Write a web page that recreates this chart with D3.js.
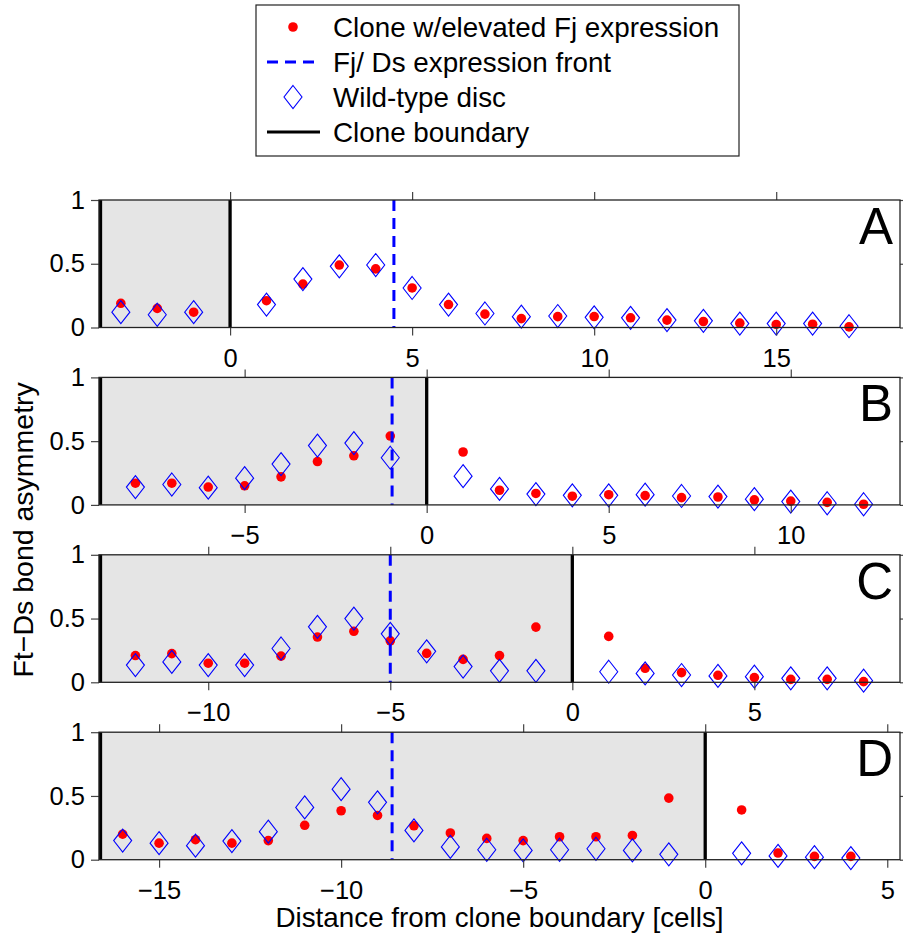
<!DOCTYPE html>
<html>
<head>
<meta charset="utf-8">
<script src="https://cdn.jsdelivr.net/npm/d3@7"></script>
<style>
  body { margin: 0; background: #fff; }
  text { font-family: "Liberation Sans", Arial, sans-serif; }
</style>
</head>
<body>
<div id="chart"></div>
<script>
// panel setup
var panelLabels = ["A", "B", "C", "D"];
var xDomains = [[-3.6, 18.4], [-9, 13], [-13, 9], [-16.65, 5.35]];
var frontPos = [4.5, -0.95, -5, -8.6];
var xTicks = [[0, 5, 10, 15], [-5, 0, 5, 10], [-10, -5, 0, 5], [-15, -10, -5, 0, 5]];
var yTicks = [0, 0.5, 1];

// A
var cellsA = [-3, -2, -1, 1, 2, 3, 4, 5, 6, 7, 8, 9, 10, 11, 12, 13, 14, 15, 16, 17];
var cloneA = [0.19, 0.15, 0.12, 0.21, 0.34, 0.49, 0.46, 0.31, 0.18, 0.105, 0.07, 0.085, 0.086, 0.076, 0.058, 0.047, 0.034, 0.024, 0.026, 0.005];
var wildA = [0.12, 0.10, 0.12, 0.18, 0.38, 0.48, 0.49, 0.31, 0.18, 0.11, 0.085, 0.09, 0.08, 0.076, 0.058, 0.052, 0.031, 0.031, 0.031, 0.01];

// B
var cellsB = [-8, -7, -6, -5, -4, -3, -2, -1, 1, 2, 3, 4, 5, 6, 7, 8, 9, 10, 11, 12];
var cloneB = [0.17, 0.17, 0.14, 0.15, 0.22, 0.34, 0.385, 0.54, 0.415, 0.115, 0.09, 0.068, 0.08, 0.073, 0.057, 0.062, 0.04, 0.03, 0.02, 0.005];
var wildB = [0.14, 0.16, 0.135, 0.21, 0.32, 0.465, 0.485, 0.37, 0.225, 0.125, 0.085, 0.075, 0.075, 0.08, 0.07, 0.065, 0.045, 0.026, 0.013, 0.005];

// C
var cellsC = [-12, -11, -10, -9, -8, -7, -6, -5, -4, -3, -2, -1, 1, 2, 3, 4, 5, 6, 7, 8];
var cloneC = [0.21, 0.225, 0.15, 0.15, 0.205, 0.355, 0.40, 0.325, 0.227, 0.18, 0.21, 0.433, 0.36, 0.11, 0.076, 0.055, 0.037, 0.023, 0.023, 0.005];
var wildC = [0.135, 0.16, 0.135, 0.135, 0.265, 0.435, 0.50, 0.38, 0.243, 0.123, 0.09, 0.09, 0.083, 0.07, 0.057, 0.05, 0.044, 0.031, 0.031, 0.013];

// D
var cellsD = [-16, -15, -14, -13, -12, -11, -10, -9, -8, -7, -6, -5, -4, -3, -2, -1, 1, 2, 3, 4];
var cloneD = [0.20, 0.13, 0.157, 0.13, 0.15, 0.27, 0.384, 0.347, 0.266, 0.21, 0.167, 0.15, 0.18, 0.18, 0.19, 0.483, 0.39, 0.052, 0.026, 0.026];
var wildD = [0.15, 0.13, 0.11, 0.146, 0.22, 0.41, 0.553, 0.45, 0.23, 0.10, 0.078, 0.073, 0.078, 0.086, 0.073, 0.042, 0.05, 0.03, 0.02, 0.013];

var cells = [cellsA, cellsB, cellsC, cellsD];
var clone = [cloneA, cloneB, cloneC, cloneD];
var wild = [wildA, wildB, wildC, wildD];

var legendLabels = ["Clone w/elevated Fj expression", "Fj/ Ds expression front", "Wild-type disc", "Clone boundary"];

var width = 903,
  height = 937;
var left = 99,
  right = 900,
  firstTop = 200,
  panelStep = 177.4,
  panelH = 127.5;

var svg = d3
  .select("#chart")
  .append("svg")
  .attr("width", width)
  .attr("height", height);

function diamond(cx, cy) {
  return "M" + cx + "," + (cy - 11.5) + "L" + (cx + 9) + "," + cy + "L" + cx + "," + (cy + 11.5) + "L" + (cx - 9) + "," + cy + "Z";
}

panelLabels.forEach(function(lab, i) {
  var top = firstTop + i * panelStep;
  var x = d3.scaleLinear().domain(xDomains[i]).range([left, right]);
  var y = d3.scaleLinear().domain([0, 1]).range([top + panelH, top]);
  var g = svg.append("g");

  // clone shading
  g.append("rect")
    .attr("x", x(xDomains[i][0]))
    .attr("y", y(1))
    .attr("width", x(0) - x(xDomains[i][0]))
    .attr("height", y(0) - y(1))
    .style("fill", "#e5e5e5");

  var pts = cells[i].map(function(c, k) {
    return { x: c, c: clone[i][k], w: wild[i][k] };
  });

  g.append("g")
    .selectAll("circle")
    .data(pts)
    .enter()
    .append("circle")
    .attr("cx", function(d) { return x(d.x); })
    .attr("cy", function(d) { return y(d.c); })
    .attr("r", 4.8)
    .style("fill", "#ff0000");

  g.append("line")
    .attr("x1", x(frontPos[i]))
    .attr("x2", x(frontPos[i]))
    .attr("y1", y(1))
    .attr("y2", y(0))
    .style("stroke", "#0000ff")
    .style("stroke-width", 3)
    .style("stroke-dasharray", "11,7");

  g.append("g")
    .selectAll("path")
    .data(pts)
    .enter()
    .append("path")
    .attr("d", function(d) { return diamond(x(d.x), y(d.w)); })
    .style("fill", "none")
    .style("stroke", "#0000ff")
    .style("stroke-width", 1.1);

  // clone boundaries
  [xDomains[i][0], 0].forEach(function(b) {
    g.append("line")
      .attr("x1", x(b) + (b === xDomains[i][0] ? 1.5 : 0))
      .attr("x2", x(b) + (b === xDomains[i][0] ? 1.5 : 0))
      .attr("y1", y(1))
      .attr("y2", y(0))
      .style("stroke", "#000")
      .style("stroke-width", 3.3);
  });

  // axes
  var xb = g.append("g")
    .attr("transform", "translate(0," + y(0) + ")")
    .call(d3.axisBottom(x).tickValues(xTicks[i]).tickSizeInner(8).tickSizeOuter(0).tickPadding(13).tickFormat(d3.format("")));
  var xt = g.append("g")
    .attr("transform", "translate(0," + y(1) + ")")
    .call(d3.axisTop(x).tickValues(xTicks[i]).tickSizeInner(8).tickSizeOuter(0).tickFormat(""));
  var yl = g.append("g")
    .attr("transform", "translate(" + left + ",0)")
    .call(d3.axisLeft(y).tickValues(yTicks).tickSizeInner(8).tickSizeOuter(0).tickPadding(6).tickFormat(d3.format("")));
  var yr = g.append("g")
    .attr("transform", "translate(" + right + ",0)")
    .call(d3.axisRight(y).tickValues(yTicks).tickSizeInner(8).tickSizeOuter(0).tickFormat(""));

  [xb, xt, yl, yr].forEach(function(a) {
    a.select(".domain").remove();
    a.selectAll("line").style("stroke", "#444").style("stroke-width", 1.2);
    a.selectAll("text")
      .style("font-family", "'Liberation Sans', Arial, sans-serif")
      .style("font-size", "25.5px")
      .style("fill", "#000");
  });

  g.append("rect")
    .attr("x", left)
    .attr("y", y(1))
    .attr("width", right - left)
    .attr("height", y(0) - y(1))
    .style("fill", "none")
    .style("stroke", "#222")
    .style("stroke-width", 1.3);

  g.append("text")
    .attr("x", right - 7)
    .attr("y", top + 44)
    .attr("text-anchor", "end")
    .style("font-size", "51px")
    .text(lab);
});

// axis titles
svg.append("text")
  .attr("x", (left + right) / 2)
  .attr("y", 927)
  .attr("text-anchor", "middle")
  .style("font-size", "27.8px")
  .text("Distance from clone boundary [cells]");

svg.append("text")
  .attr("transform", "translate(33," + (firstTop + (3 * panelStep + panelH) / 2) + ") rotate(-90)")
  .attr("text-anchor", "middle")
  .style("font-size", "28.5px")
  .text("Ft\u2212Ds bond asymmetry");

// legend
var legend = svg.append("g");
legend.append("rect")
  .attr("x", 256)
  .attr("y", 5)
  .attr("width", 483)
  .attr("height", 151)
  .style("fill", "#fff")
  .style("stroke", "#222")
  .style("stroke-width", 1.2);

var rowY = d3.scalePoint().domain(legendLabels).range([27, 132]);

legend.append("circle")
  .attr("cx", 293)
  .attr("cy", rowY(legendLabels[0]))
  .attr("r", 4.8)
  .style("fill", "#ff0000");
legend.append("line")
  .attr("x1", 267)
  .attr("x2", 320)
  .attr("y1", rowY(legendLabels[1]))
  .attr("y2", rowY(legendLabels[1]))
  .style("stroke", "#0000ff")
  .style("stroke-width", 3)
  .style("stroke-dasharray", "11,7");
legend.append("path")
  .attr("d", diamond(293, rowY(legendLabels[2])))
  .style("fill", "none")
  .style("stroke", "#0000ff")
  .style("stroke-width", 1.1);
legend.append("line")
  .attr("x1", 267)
  .attr("x2", 320)
  .attr("y1", rowY(legendLabels[3]))
  .attr("y2", rowY(legendLabels[3]))
  .style("stroke", "#000")
  .style("stroke-width", 3);

legend.selectAll("text")
  .data(legendLabels)
  .enter()
  .append("text")
  .attr("x", 333)
  .attr("y", function(d) { return rowY(d); })
  .attr("dy", "0.36em")
  .style("font-size", "27.8px")
  .text(function(d) { return d; });
</script>
</body>
</html>
